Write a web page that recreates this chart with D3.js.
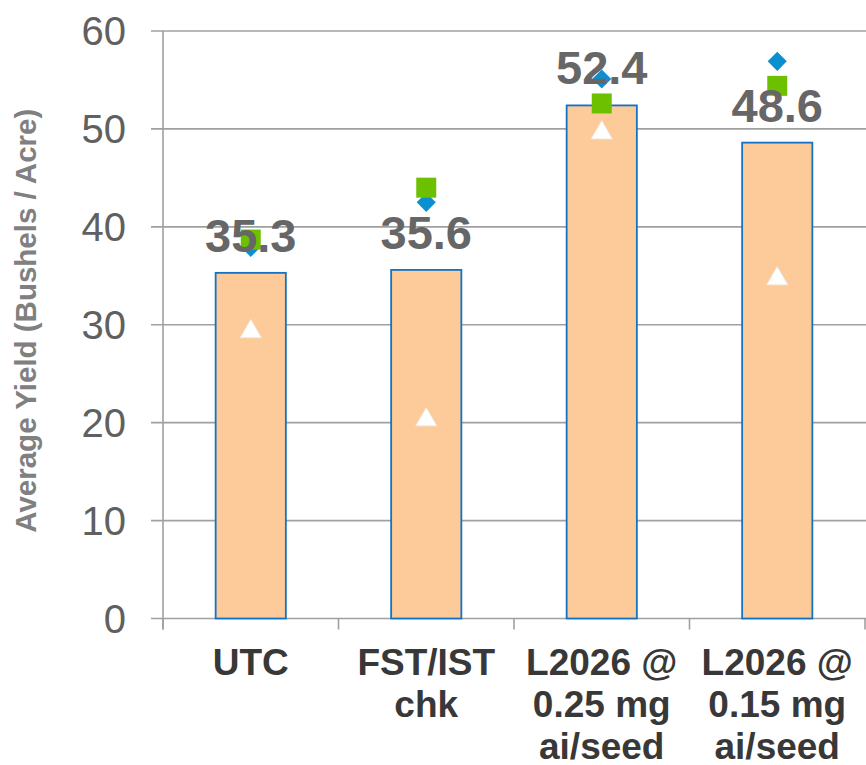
<!DOCTYPE html>
<html>
<head>
<meta charset="utf-8">
<script src="https://cdn.jsdelivr.net/npm/d3@7"></script>
<style>
  html, body { margin: 0; padding: 0; background: #fff; }
  svg { display: block; font-family: "Liberation Sans", Arial, sans-serif; }
</style>
</head>
<body>
<svg id="chart" width="866" height="765"></svg>
<script>
// Treatments (x categories) and their wrapped label lines
const categories = ["UTC", "FST/IST chk", "L2026 @ 0.25 mg ai/seed", "L2026 @ 0.15 mg ai/seed"];
const categoryLines = [["UTC"], ["FST/IST", "chk"], ["L2026 @", "0.25 mg", "ai/seed"], ["L2026 @", "0.15 mg", "ai/seed"]];

// Average yield across locations (bars, labelled)
const averageYield = [35.3, 35.6, 52.4, 48.6];

// Individual location yields (markers)
const siteDiamond = [37.9, 42.5, 55.1, 56.9];
const siteSquare = [38.7, 44.0, 52.6, 54.4];
const siteTriangle = [29.3, 20.3, 49.6, 34.7];

// Y axis ticks
const yTicks = [0, 10, 20, 30, 40, 50, 60];

const svg = d3.select("#chart");
const plotLeft = 163, plotRight = 865, plotTop = 31, plotBottom = 618.5;

const x = d3.scaleBand().domain(categories).range([plotLeft, plotRight]).padding(0);
const y = d3.scaleLinear().domain([0, 60]).range([plotBottom, plotTop]);

// Horizontal gridlines
svg.append("g")
  .selectAll("line")
  .data(yTicks)
  .join("line")
  .attr("x1", plotLeft - 12)
  .attr("x2", 866)
  .attr("y1", d => y(d))
  .attr("y2", d => y(d))
  .attr("stroke", "#a0a0a0")
  .attr("stroke-width", 1.6);

// Y axis line
svg.append("line")
  .attr("x1", plotLeft).attr("x2", plotLeft)
  .attr("y1", y(60)).attr("y2", plotBottom + 11)
  .attr("stroke", "#a0a0a0").attr("stroke-width", 1.6);

// X axis category separators (tick marks)
const sepX = categories.map(c => x(c)).concat([plotRight]);
svg.append("g")
  .selectAll("line")
  .data(sepX)
  .join("line")
  .attr("x1", d => d).attr("x2", d => d)
  .attr("y1", plotBottom).attr("y2", plotBottom + 11)
  .attr("stroke", "#a0a0a0").attr("stroke-width", 1.6);

// Y tick labels
svg.append("g")
  .selectAll("text")
  .data(yTicks)
  .join("text")
  .attr("x", 126)
  .attr("y", d => y(d))
  .attr("dy", "0.36em")
  .attr("text-anchor", "end")
  .attr("font-size", 40)
  .attr("fill", "#606060")
  .text(d => d);

// Y axis title
svg.append("text")
  .attr("transform", `translate(36, ${(plotTop + plotBottom) / 2 - 4}) rotate(-90)`)
  .attr("text-anchor", "middle")
  .attr("font-size", 29.5)
  .attr("font-weight", "bold")
  .attr("fill", "#808080")
  .text("Average Yield (Bushels / Acre)");

// Bars
const barW = x.bandwidth() * 0.4;
svg.append("g")
  .selectAll("rect")
  .data(averageYield)
  .join("rect")
  .attr("x", (d, i) => x(categories[i]) + (x.bandwidth() - barW) / 2)
  .attr("y", d => y(d))
  .attr("width", barW)
  .attr("height", d => plotBottom - y(d))
  .attr("fill", "#fdcb99")
  .attr("stroke", "#1273c6")
  .attr("stroke-width", 1.8);

const cx = i => x(categories[i]) + x.bandwidth() / 2;

// Triangle markers
svg.append("g")
  .selectAll("path")
  .data(siteTriangle)
  .join("path")
  .attr("transform", (d, i) => `translate(${cx(i)}, ${y(d)})`)
  .attr("d", d3.symbol(d3.symbolTriangle, 190)())
  .attr("fill", "#ffffff")
  .attr("stroke", "#f0ece8")
  .attr("stroke-width", 1);

// Diamond markers
svg.append("g")
  .selectAll("path")
  .data(siteDiamond)
  .join("path")
  .attr("transform", (d, i) => `translate(${cx(i)}, ${y(d)}) rotate(45)`)
  .attr("d", d3.symbol(d3.symbolSquare, 182)())
  .attr("fill", "#0a8fcf");

// Square markers
svg.append("g")
  .selectAll("path")
  .data(siteSquare)
  .join("path")
  .attr("transform", (d, i) => `translate(${cx(i)}, ${y(d)})`)
  .attr("d", d3.symbol(d3.symbolSquare, 400)())
  .attr("fill", "#6cc000");

// Value labels above bars
svg.append("g")
  .selectAll("text")
  .data(averageYield)
  .join("text")
  .attr("x", (d, i) => cx(i))
  .attr("y", d => y(d) - 21)
  .attr("text-anchor", "middle")
  .attr("font-size", 47)
  .attr("font-weight", "bold")
  .attr("fill", "#666666")
  .text(d => d.toFixed(1));

// X category labels
const xl = svg.append("g")
  .selectAll("text")
  .data(categoryLines)
  .join("text")
  .attr("text-anchor", "middle")
  .attr("font-size", 37)
  .attr("font-weight", "bold")
  .attr("fill", "#383838");
xl.each(function(lines, i) {
  d3.select(this).selectAll("tspan")
    .data(lines)
    .join("tspan")
    .attr("x", cx(i))
    .attr("y", (l, j) => 675 + j * 42)
    .text(l => l);
});
</script>
</body>
</html>
